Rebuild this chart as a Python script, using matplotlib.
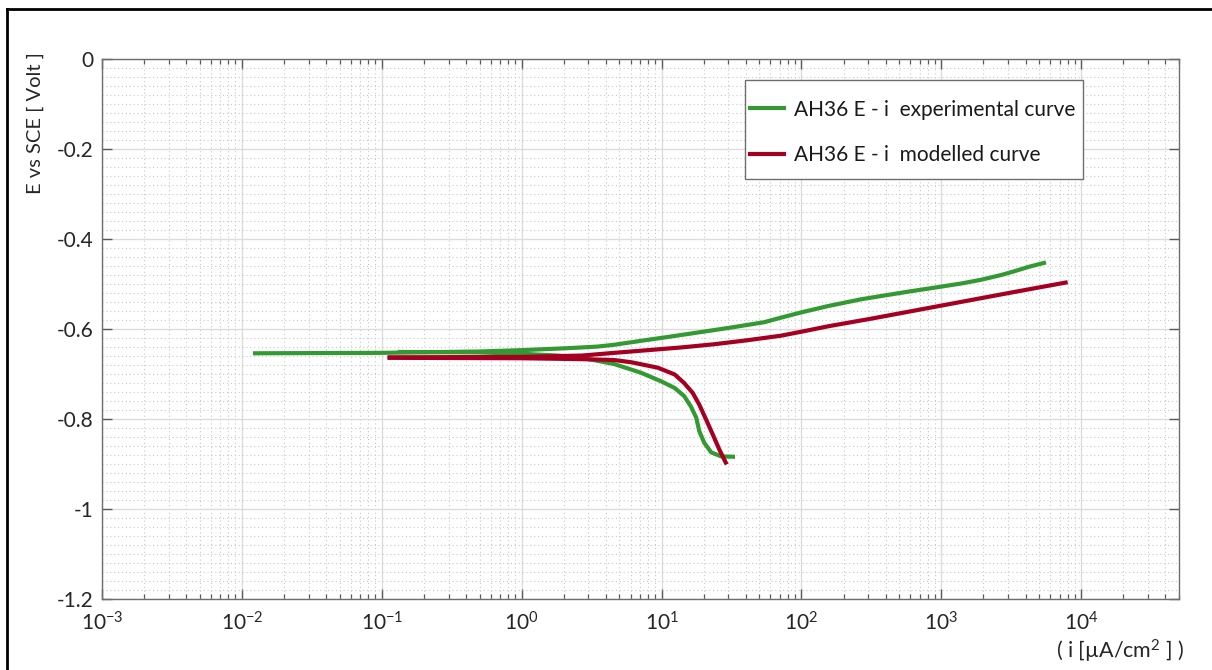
import numpy as np
import matplotlib
matplotlib.use("Agg")
import matplotlib.pyplot as plt
from matplotlib.lines import Line2D
from matplotlib.patches import Rectangle
from matplotlib.ticker import (FixedLocator, MultipleLocator, FuncFormatter, NullFormatter,
                               LogFormatterMathtext)

plt.rcParams['font.family'] = ['Lato', 'DejaVu Sans']
plt.rcParams['mathtext.fontset'] = 'custom'
plt.rcParams['mathtext.rm'] = 'Lato'
plt.rcParams['mathtext.it'] = 'Lato:italic'
plt.rcParams['axes.unicode_minus'] = False

# Experimental polarisation curve (current density in uA/cm2, potential in V vs SCE)
exp_anodic_i = [0.012, 0.1, 0.5, 1, 2, 2.7, 3.5, 4.6, 8, 10.4, 18, 31, 54, 71, 100, 155, 267, 420,
                608, 900, 1380, 1900, 2680, 3300, 4200, 5600]
exp_anodic_E = [-0.654, -0.653, -0.650, -0.647, -0.643, -0.641, -0.639, -0.635, -0.624, -0.619,
                -0.608, -0.597, -0.585, -0.575, -0.563, -0.549, -0.534, -0.524, -0.516, -0.508,
                -0.499, -0.491, -0.480, -0.472, -0.462, -0.452]
exp_cathodic_i = [0.13, 0.5, 1, 1.8, 2.7, 4.6, 7.1, 9.9, 12.4, 14.5, 16.2, 17.7, 18.6, 20.2, 22.6,
                  26.6, 33.5]
exp_cathodic_E = [-0.651, -0.652, -0.655, -0.659, -0.664, -0.678, -0.697, -0.716, -0.731, -0.749,
                  -0.772, -0.797, -0.827, -0.853, -0.874, -0.883, -0.884]

# Modelled polarisation curve
mod_anodic_i = [0.11, 1, 2.7, 4.6, 8, 13.8, 23.6, 41, 71, 100, 155, 316, 1000, 3160, 8000]
mod_anodic_E = [-0.663, -0.662, -0.659, -0.653, -0.647, -0.641, -0.634, -0.625, -0.615, -0.606,
                -0.594, -0.577, -0.548, -0.519, -0.496]
mod_cathodic_i = [0.11, 1, 2.7, 4.6, 6.1, 9.4, 12.4, 14.5, 16.7, 18.6, 20.8, 23.2, 25.9, 29.2]
mod_cathodic_E = [-0.664, -0.665, -0.667, -0.669, -0.674, -0.686, -0.701, -0.720, -0.742, -0.768,
                  -0.801, -0.834, -0.868, -0.901]

labels = ["AH36 E - i  experimental curve", "AH36 E - i  modelled curve"]
x_decades = [-3, -2, -1, 0, 1, 2, 3, 4]
green = "#339a33"
red = "#a50021"

W, H = 1212, 670
fig = plt.figure(figsize=(W / 100, H / 100), dpi=100)
ax = fig.add_axes([102 / W, 1 - 599 / H, (1179 - 102) / W, (599 - 59) / H])

lw = 3.0
kw = dict(lw=lw, solid_capstyle='butt', solid_joinstyle='round')
ax.plot(exp_anodic_i, exp_anodic_E, color=green, zorder=3, **kw)
ax.plot(exp_cathodic_i, exp_cathodic_E, color=green, zorder=3, **kw)
ax.plot(mod_anodic_i, mod_anodic_E, color=red, zorder=4, **kw)
ax.plot(mod_cathodic_i, mod_cathodic_E, color=red, zorder=4, **kw)

ax.set_xscale('log')
ax.set_xlim(1e-3, 5e4)
ax.set_ylim(-1.2, 0)

majors = [10.0 ** d for d in x_decades]
minors = [m * 10.0 ** d for d in x_decades for m in range(2, 10) if m * 10.0 ** d <= 5e4]
ax.xaxis.set_major_locator(FixedLocator(majors))
ax.xaxis.set_major_formatter(LogFormatterMathtext())
ax.xaxis.set_minor_locator(FixedLocator(minors))
ax.xaxis.set_minor_formatter(NullFormatter())
ax.yaxis.set_major_locator(MultipleLocator(0.2))
ax.yaxis.set_minor_locator(MultipleLocator(0.02))
ax.yaxis.set_major_formatter(FuncFormatter(lambda v, p: f"{round(v, 2):g}" if abs(v) > 1e-9 else "0"))

ax.grid(which='major', color='#dcdcdc', lw=1.0, ls='-')
ax.grid(which='minor', color='#c8c8c8', lw=0.8, ls=(0, (1, 2.5)))
ax.set_axisbelow(True)

for s in ax.spines.values():
    s.set_color('#6e6e6e')
    s.set_linewidth(1.0)

ax.tick_params(which='both', direction='in', top=True, right=True, colors='#5a5a5a',
               labelcolor='#262626')
ax.tick_params(which='major', length=7.5, width=1.0)
ax.tick_params(which='minor', length=3.8, width=0.9)
ax.tick_params(axis='y', which='minor', length=0)
ax.tick_params(axis='x', labelsize=15, pad=9)
ax.tick_params(axis='y', labelsize=15, pad=6)

# legend entries, with a plain rectangular frame around them
to_ax = lambda px, py: ((px - 102) / 1077, (599 - py) / 540)
leg_handles = [Line2D([], [], color=green, lw=lw), Line2D([], [], color=red, lw=lw)]
leg = ax.legend(leg_handles, labels, loc='center left', bbox_to_anchor=to_ax(750, 132.5),
                fontsize=15, frameon=False, handlelength=1.63, handletextpad=0.5,
                labelspacing=1.24, borderpad=0, borderaxespad=0)
leg.set_zorder(6)
for t in leg.get_texts():
    t.set_color('#1a1a1a')
x0, y0 = to_ax(745, 179)
x1, y1 = to_ax(1083, 80)
ax.add_patch(Rectangle((x0, y0), x1 - x0, y1 - y0, transform=ax.transAxes, facecolor='white',
                       edgecolor='#6e6e6e', lw=1.0, zorder=5))

fig.text(35 / W, 1 - 123 / H, "E vs SCE [ Volt ]", rotation=90, ha='center', va='center',
         fontsize=14.5, color='#262626')
fig.text(1120 / W, 1 - 651 / H, r"( i [µA/cm$^{2}$ ] )", ha='center', va='center',
         fontsize=15.5, color='#262626')

# outer frame edges
fig.add_artist(Line2D([7 / W, 1.0], [1 - 9 / H, 1 - 9 / H], transform=fig.transFigure,
                      color='black', lw=2.0))
fig.add_artist(Line2D([7 / W, 7 / W], [0.0, 1 - 9 / H], transform=fig.transFigure,
                      color='black', lw=2.0))

fig.savefig("out.png", dpi=100)
